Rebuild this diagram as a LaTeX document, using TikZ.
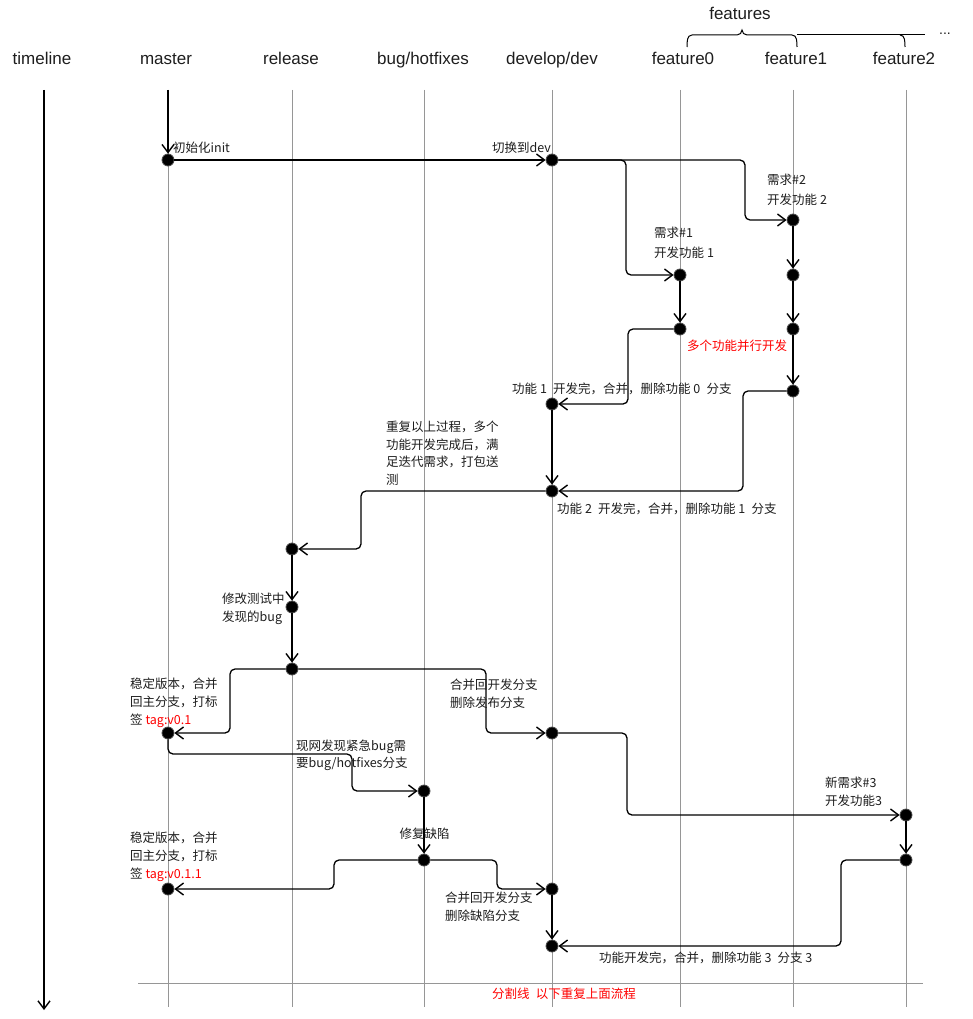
\documentclass[tikz,border=0pt]{standalone}
\usepackage{fontspec}
\setmainfont{Liberation Sans}
\newfontfamily\cjk{Noto Sans CJK SC}
\usetikzlibrary{arrows.meta}
\definecolor{lanegray}{RGB}{150,150,150}
\definecolor{ink}{RGB}{30,30,30}
\definecolor{tagred}{RGB}{255,0,0}
\begin{document}
\begin{tikzpicture}[x=1pt,y=-1pt,
  lane/.style={draw=lanegray,line width=1pt},
  head/.style={font=\fontsize{17}{20}\selectfont,text=ink,inner sep=0pt,anchor=base},
  commit/.style={circle,fill=black,draw=black!70,line width=0.8pt,minimum size=12pt,inner sep=0pt},
  flow/.style={draw=black,line width=1.3pt,rounded corners=5pt,-{Straight Barb[length=8pt,width=12pt,line width=1.4pt]}},
  note/.style={font=\cjk\fontsize{12.5}{18}\selectfont,text=ink,inner sep=0pt,align=left},
]
\useasboundingbox (0,0) rectangle (972,1019);
\fill[white] (0,0) rectangle (972,1019);

% lanes
\foreach \x in {168,292,424,552,680,793,906} \draw[lane] (\x,90) -- (\x,1007);
\draw[lane] (138,983) -- (923,983);

% header
\node[head] (hTimeline) at (42,65) {timeline};
\node[head] (hMaster) at (166,65) {master};
\node[head] (hRelease) at (291,65) {release};
\node[head] (hBug) at (423,65) {bug/hotfixes};
\node[head] (hDev) at (552,65) {develop/dev};
\node[head] (hF0) at (683,65) {feature0};
\node[head] (hF1) at (796,65) {feature1};
\node[head] (hF2) at (904,65) {feature2};
\node[head] (hFeatures) at (740,20) {features};
\node[head,font=\fontsize{14}{16}\selectfont] (hDots) at (945,35) {...};
\draw[black,line width=1pt] (687,47) to[out=90,in=180] (692,35) -- (737,35) to[out=0,in=-90] (742,30) to[out=-90,in=180] (747,35) -- (792,35) to[out=0,in=90] (797,47);
\draw[black,line width=1pt] (797,35) -- (925,35);
\draw[black,line width=1pt] (900,35) to[out=0,in=90] (905,47);

% timeline
\coordinate (tlTop) at (44,90);
\coordinate (tlEnd) at (44,1010);
\draw[flow] (tlTop) -- (tlEnd);
\coordinate (mTop) at (168,90);

% commits
\node[commit] (m1) at (168,160) {};
\node[commit] (d1) at (552,160) {};
\node[commit] (f1a) at (793,220) {};
\node[commit] (f0a) at (680,275) {};
\node[commit] (f1b) at (793,275) {};
\node[commit] (f0b) at (680,329) {};
\node[commit] (f1c) at (793,329) {};
\node[commit] (f1d) at (793,391) {};
\node[commit] (d2) at (552,404) {};
\node[commit] (d3) at (552,491) {};
\node[commit] (r1) at (292,549) {};
\node[commit] (r2) at (292,607) {};
\node[commit] (r3) at (292,669) {};
\node[commit] (m2) at (168,733) {};
\node[commit] (d4) at (552,733) {};
\node[commit] (h1) at (424,791) {};
\node[commit] (f2a) at (906,815) {};
\node[commit] (h2) at (424,860) {};
\node[commit] (f2b) at (906,860) {};
\node[commit] (m3) at (168,889) {};
\node[commit] (d5) at (552,889) {};
\node[commit] (d6) at (552,946) {};

% flows
\draw[flow] (mTop) -- (m1);
\draw[flow] (m1) -- (d1);
\draw[flow] (d1) -- (745,160) -- (745,220) -- (f1a);
\draw[flow] (d1) -- (626,160) -- (626,275) -- (f0a);
\draw[flow] (f0a) -- (f0b);
\draw[flow] (f1a) -- (f1b);
\draw[flow] (f1b) -- (f1c);
\draw[flow] (f1c) -- (f1d);
\draw[flow] (f0b) -- (628,329) -- (628,404) -- (d2);
\draw[flow] (f1d) -- (743,391) -- (743,491) -- (d3);
\draw[flow] (d2) -- (d3);
\draw[flow] (d3) -- (361,491) -- (361,549) -- (r1);
\draw[flow] (r1) -- (r2);
\draw[flow] (r2) -- (r3);
\draw[flow] (r3) -- (486,669) -- (486,733) -- (d4);
\draw[flow] (r3) -- (230,669) -- (230,733) -- (m2);
\draw[flow] (m2) -- (168,754) -- (352,754) -- (352,791) -- (h1);
\draw[flow] (d4) -- (627,733) -- (627,815) -- (f2a);
\draw[flow] (h1) -- (h2);
\draw[flow] (f2a) -- (f2b);
\draw[flow] (h2) -- (334,860) -- (334,889) -- (m3);
\draw[flow] (h2) -- (497,860) -- (497,889) -- (d5);
\draw[flow] (d5) -- (d6);
\draw[flow] (f2b) -- (841,860) -- (841,946) -- (d6);

% labels
\node[note,anchor=west] (lInit) at (173,148) {初始化init};
\node[note,anchor=east] (lDev) at (551,148) {切换到dev};
\node[note,anchor=west,font=\cjk\fontsize{12.5}{20}\selectfont] (lReq2) at (767,190) {需求\#2\\开发功能 2};
\node[note,anchor=west,font=\cjk\fontsize{12.5}{20}\selectfont] (lReq1) at (654,243) {需求\#1\\开发功能 1};
\node[note,anchor=west,text=tagred] (lPar) at (687,346) {多个功能并行开发};
\node[note,anchor=west] (lM0) at (512,389) {功能 1\enspace 开发完，合并，删除功能 0\enspace 分支};
\node[note,anchor=west,font=\cjk\fontsize{12.5}{17.5}\selectfont] (lRep) at (386,453) {重复以上过程，多个\\功能开发完成后，满\\足迭代需求，打包送\\测};
\node[note,anchor=west] (lM1) at (557,509) {功能 2\enspace 开发完，合并，删除功能 1\enspace 分支};
\node[note,anchor=west] (lFixT) at (222,609) {修改测试中\\发现的bug};
\node[note,anchor=west] (lMR) at (450,694) {合并回开发分支\\删除发布分支};
\node[note,anchor=west] (lS1) at (130,703) {稳定版本，合并\\回主分支，打标\\签 \textcolor{tagred}{tag:v0.1}};
\node[note,anchor=west,font=\cjk\fontsize{12.5}{17}\selectfont] (lHot) at (296,755) {现网发现紧急bug需\\要bug/hotfixes分支};
\node[note] (lFix) at (424.5,834) {修复缺陷};
\node[note,anchor=west] (lS2) at (130,857) {稳定版本，合并\\回主分支，打标\\签 \textcolor{tagred}{tag:v0.1.1}};
\node[note,anchor=west] (lMH) at (445,907) {合并回开发分支\\删除缺陷分支};
\node[note,anchor=west] (lReq3) at (825,792) {新需求\#3\\开发功能3};
\node[note,anchor=west] (lM3) at (599,958) {功能开发完，合并，删除功能 3\enspace 分支 3};
\node[note,text=tagred] (lDiv) at (564,994) {分割线\enspace 以下重复上面流程};
\end{tikzpicture}
\end{document}
